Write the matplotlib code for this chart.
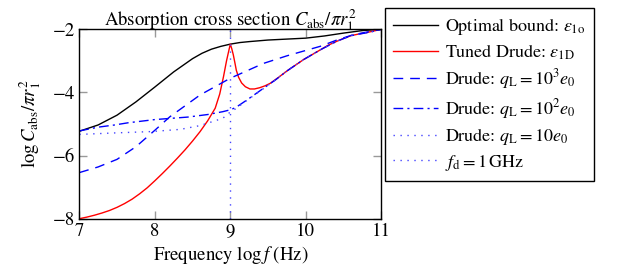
import numpy as np
import matplotlib
matplotlib.use("Agg")
import matplotlib.pyplot as plt

plt.rcParams['font.family'] = ['STIXGeneral', 'DejaVu Serif']
plt.rcParams['mathtext.fontset'] = 'stix'

# values (x = log f, y = log C_abs / pi r1^2)
x_opt = [7.0, 7.25, 7.5, 7.75, 8.0, 8.25, 8.5, 8.625, 8.75, 8.875, 9.0, 9.125, 9.25, 9.5, 9.75,
         10.0, 10.25, 10.5, 10.75, 11.0]
y_opt = [-5.23, -5.03, -4.72, -4.30, -3.83, -3.35, -2.93, -2.76, -2.63, -2.54, -2.47, -2.42, -2.39,
         -2.34, -2.31, -2.28, -2.21, -2.12, -2.04, -2.0]

x_tuned = [7.0, 7.1, 7.2, 7.3, 7.4, 7.5, 7.6, 7.7, 7.8, 7.9, 8.0, 8.1, 8.2, 8.3, 8.4, 8.5, 8.6,
           8.7, 8.8, 8.86, 8.91, 8.95, 8.98, 9.0,
           9.02, 9.04, 9.06, 9.08, 9.11, 9.15, 9.2, 9.26, 9.32, 9.39, 9.46, 9.53, 9.64, 9.75,
           9.86, 9.97, 10.1, 10.2, 10.3, 10.41, 10.5, 10.6, 10.72, 10.85, 11.0]
y_tuned = [-8.0, -7.95, -7.89, -7.82, -7.74, -7.64, -7.52, -7.38, -7.21, -7.02, -6.8, -6.57, -6.33,
           -6.08, -5.82, -5.54, -5.24, -4.9, -4.5, -4.05, -3.5, -3.0, -2.68, -2.47,
           -2.62, -2.81, -3.05, -3.3, -3.52, -3.7, -3.82, -3.89, -3.89, -3.85, -3.79, -3.71, -3.52, -3.32,
           -3.14, -2.96, -2.78, -2.64, -2.5, -2.38, -2.29, -2.2, -2.14, -2.08, -2.0]

x_q3 = [7.0, 7.25, 7.5, 7.75, 8.0, 8.2, 8.6, 9.0, 9.44, 9.75, 10.0, 10.19, 10.4, 10.63, 10.85, 11.0]
y_q3 = [-6.54, -6.36, -6.12, -5.72, -5.2, -4.77, -4.08, -3.55, -3.08, -2.84, -2.67, -2.54, -2.35, -2.17, -2.07, -2.0]

x_q2 = [7.0, 7.25, 7.47, 7.65, 8.0, 8.44, 8.7, 8.9, 9.0, 9.07, 9.22, 9.35, 9.48, 9.6, 9.75, 9.97, 10.2, 10.41, 10.6, 10.85, 11.0]
y_q2 = [-5.22, -5.1, -5.03, -4.96, -4.86, -4.78, -4.7, -4.61, -4.55, -4.48, -4.24, -4.02, -3.8, -3.6, -3.32, -2.96, -2.64, -2.38, -2.2, -2.09, -2.0]

x_q1 = [7.0, 7.5, 7.95, 8.34, 8.6, 8.9, 9.0, 9.07, 9.22, 9.35, 9.48, 9.6, 9.75, 9.97, 10.2, 10.41, 10.6, 10.85, 11.0]
y_q1 = [-5.33, -5.28, -5.24, -5.17, -5.05, -4.82, -4.62, -4.52, -4.25, -4.03, -3.81, -3.6, -3.32, -2.96, -2.64, -2.38, -2.2, -2.09, -2.0]

f_d = 9.0

fig = plt.figure(figsize=(6.17, 2.78), dpi=100)
ax = fig.add_axes([0.1285, 0.2133, 0.4895, 0.6813])

fs = 13.5
ax.plot(x_opt, y_opt, color='black', lw=1.0, label=r'Optimal bound: $\varepsilon_{\rm 1o}$')
ax.plot(x_tuned, y_tuned, color='red', lw=1.0, label=r'Tuned Drude: $\varepsilon_{\rm 1D}$')
ax.plot(x_q3, y_q3, color='blue', lw=1.0, dashes=(7, 5), label=r'Drude: $q_{\rm L}=10^3e_0$')
ax.plot(x_q2, y_q2, color='blue', lw=1.0, dashes=(7, 3, 1.5, 3), label=r'Drude: $q_{\rm L}=10^2e_0$')
ax.plot(x_q1, y_q1, color='#4444ff', lw=1.0, dashes=(1, 4), label=r'Drude: $q_{\rm L}=10e_0$')
ax.axvline(f_d, color='#4444ff', lw=1.0, dashes=(1, 4), label=r'$f_{\rm d}=1\,$GHz')

ax.set_xlim(7, 11)
ax.set_ylim(-8, -2)
ax.set_xticks([7, 8, 9, 10, 11])
ax.set_yticks([-8, -6, -4, -2])
ax.set_yticklabels(['\u22128', '\u22126', '\u22124', '\u22122'])
ax.tick_params(direction='in', top=True, right=True, length=6, width=1,
               color='#999999', labelsize=fs, pad=3)
for s in ax.spines.values():
    s.set_linewidth(1.0)

ax.set_xlabel(r'Frequency $\log f$ (Hz)', fontsize=fs, labelpad=3)
ax.set_ylabel(r'$\log C_{\rm abs}/\pi r_1^2$', fontsize=fs, labelpad=7)
ax.set_title(r'Absorption cross section $C_{\rm abs}/\pi r_1^2$', fontsize=13.5, pad=3)

leg = fig.legend(loc='upper left', bbox_to_anchor=(385 / 617, 1 - 8 / 278),
                 fontsize=13, fancybox=False, framealpha=1, edgecolor='black',
                 handlelength=2.5, handletextpad=0.4, labelspacing=0.3,
                 borderpad=0.45, borderaxespad=0)
leg.get_frame().set_linewidth(1.0)

fig.savefig('out.png', dpi=100)
